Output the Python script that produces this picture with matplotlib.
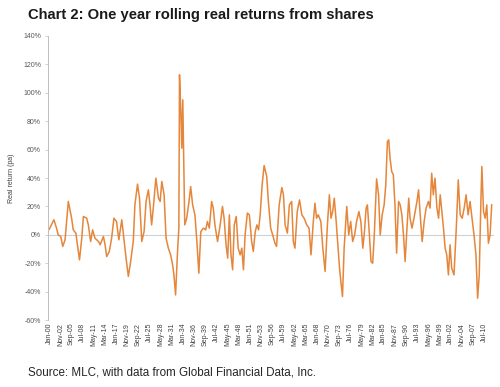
import matplotlib
matplotlib.use("Agg")
import matplotlib.pyplot as plt

# Months since Jan-1900 and one-year rolling real return (%)
months = [0, 14, 22, 27, 35, 41, 48, 58, 68, 73, 81, 85, 92, 99, 104, 114, 119, 126, 132, 139,
          150, 155, 165, 170, 175, 183, 190, 197, 205, 212, 221, 226, 234, 241, 248, 256, 261, 269,
          275, 282, 289, 295, 302, 307, 312, 317, 325, 333, 338, 343, 350, 356, 363, 370, 376, 380,
          385, 391, 395, 397, 401, 404, 407, 410, 413, 419, 426, 431, 437, 444, 450, 456, 462, 470,
          477, 482, 488, 495, 500, 505, 513, 521, 528, 533, 539, 544, 549, 554, 559, 564, 570, 576,
          582, 587, 592, 597, 604, 610, 617, 622, 628, 633, 638, 643, 649, 655, 663, 668, 675, 681,
          688, 693, 701, 709, 714, 719, 726, 732, 739, 744, 749, 756, 763, 770, 777, 785, 792, 798,
          805, 810, 815, 820, 828, 834, 841, 848, 854, 859, 864, 869, 874, 879, 885, 889, 894, 899,
          907, 913, 919, 925, 931, 937, 944, 950, 956, 961, 966, 970, 976, 981, 986, 991, 998, 1004,
          1009, 1015, 1021, 1026, 1031, 1035, 1039, 1044, 1049, 1054, 1059, 1065, 1070, 1075, 1080,
          1085, 1090, 1096, 1100, 1106, 1112, 1121, 1126, 1131, 1137, 1143, 1149, 1156, 1161, 1166,
          1171, 1176, 1182, 1187, 1192, 1197, 1202, 1207, 1212, 1217, 1222, 1227, 1234, 1241, 1247,
          1253, 1259, 1265, 1271, 1277, 1283, 1289, 1295, 1301, 1306, 1311, 1316, 1319, 1324, 1329,
          1334, 1339, 1344, 1349]
returns = [4.0, 10.6, 4.7, 0.0, -1.2, -8.2, -3.5, 23.5, 11.7, 3.5, 1.2, -5.9, -17.6, -2.3, 12.9, 11.7,
           7.0, -4.7, 3.5, -2.3, -4.7, -7.0, -1.2, -7.0, -15.3, -11.7, -2.3, 11.7, 9.4, -3.5, 10.6,
           0.0, -16.4, -29.3, -18.8, -4.7, 21.1, 35.7, 25.8, -4.7, 2.3, 23.5, 31.7, 21.1, 7.0, 18.8,
           39.9, 25.8, 23.5, 37.6, 28.2, -2.3, -9.4, -14.1, -21.1, -28.2, -42.3, -11.7, 4.7, 112.7,
           86.9, 61.0, 95.1, 51.6, 7.0, 11.7, 23.5, 34.0, 21.1, 14.1, -4.7, -27.0, 2.3, 4.7, 3.5, 9.4,
           4.7, 23.5, 18.8, 7.0, -4.7, 7.0, 20.0, 11.7, -7.0, -16.4, 14.1, -14.1, -24.6, 7.0, 12.9,
           -9.4, -14.1, -9.4, -24.6, 0.0, 15.3, 14.1, -4.7, -11.7, 2.3, 7.0, 3.5, 14.1, 35.2, 48.8,
           41.1, 23.5, 4.7, 0.0, -5.9, -8.2, 21.1, 33.3, 28.2, 7.0, 1.2, 21.1, 23.5, -4.7, -9.4,
           16.4, 24.6, 14.1, 11.7, 7.0, 4.7, -14.1, 9.4, 22.3, 11.7, 14.1, 9.4, -9.4, -25.8, 7.0,
           28.2, 11.7, 16.4, 25.8, 11.7, -4.7, -23.5, -32.9, -43.4, -9.4, 20.0, 0.0, 9.4, -4.7, 0.0,
           9.4, 16.4, 9.4, -9.4, 2.3, 18.8, 21.1, 0.0, -18.8, -20.0, 0.0, 39.4, 28.2, 0.0, 14.1,
           21.1, 35.2, 65.7, 66.9, 54.0, 44.6, 42.3, 21.1, -12.9, 23.5, 21.1, 14.1, 0.0, -18.8, 2.3,
           25.8, 11.7, 4.7, 11.7, 23.5, 31.7, 14.1, -4.7, 9.4, 18.8, 23.5, 18.8, 43.4, 28.2, 39.9,
           18.8, 11.7, 28.2, 16.4, 4.7, -9.4, -14.1, -28.2, -7.0, -23.5, -28.2, 4.7, 38.7, 14.1,
           11.7, 18.8, 28.2, 14.1, 23.5, 11.7, 0.0, -14.1, -44.6, -28.2, 23.5, 48.1, 16.4, 11.7,
           21.1, -5.9, 0.0, 21.1]

tick_labels = ["Jan-00", "Nov-02", "Sep-05", "Jul-08", "May-11", "Mar-14", "Jan-17", "Nov-19",
               "Sep-22", "Jul-25", "May-28", "Mar-31", "Jan-34", "Nov-36", "Sep-39", "Jul-42",
               "May-45", "Mar-48", "Jan-51", "Nov-53", "Sep-56", "Jul-59", "May-62", "Mar-65",
               "Jan-68", "Nov-70", "Sep-73", "Jul-76", "May-79", "Mar-82", "Jan-85", "Nov-87",
               "Sep-90", "Jul-93", "May-96", "Mar-99", "Jan-02", "Nov-04", "Sep-07", "Jul-10"]
tick_step_months = 34
y_ticks = [-60, -40, -20, 0, 20, 40, 60, 80, 100, 120, 140]

plt.rcParams['font.family'] = ['Liberation Sans', 'DejaVu Sans']

fig = plt.figure(figsize=(5.0, 3.87), dpi=100)
ax = fig.add_axes([0.096, 0.173, 0.892, 0.734])

ax.plot(months, returns, color='#E5863A', lw=1.1, solid_joinstyle='round')
ax.axhline(0, color='#D0D0D0', lw=0.8, zorder=0)

ax.set_xlim(-4, 1356)
ax.set_ylim(-60, 140)
ax.set_yticks(y_ticks)
ax.set_yticklabels([f"{v}%" for v in y_ticks], fontsize=5.0, color='#595959')
ax.set_xticks([i * tick_step_months for i in range(len(tick_labels))])
ax.set_xticklabels(tick_labels, rotation=90, fontsize=5.0, color='#404040')
ax.tick_params(axis='x', length=0, pad=2)
ax.tick_params(axis='y', length=2, width=0.5, color='#BFBFBF', pad=3)

for s in ['top', 'right', 'bottom']:
    ax.spines[s].set_visible(False)
ax.spines['left'].set_color('#BFBFBF')
ax.spines['left'].set_linewidth(0.7)

ax.set_ylabel("Real return (pa)", fontsize=5.0, color='#404040', labelpad=6)

fig.text(0.056, 0.962, "Chart 2: One year rolling real returns from shares",
         fontsize=10.6, fontweight='bold', color='#1A1A1A', va='center', ha='left')
fig.text(0.056, 0.038, "Source: MLC, with data from Global Financial Data, Inc.",
         fontsize=8.4, color='#262626', va='center', ha='left')

fig.savefig("out.png", dpi=100)
